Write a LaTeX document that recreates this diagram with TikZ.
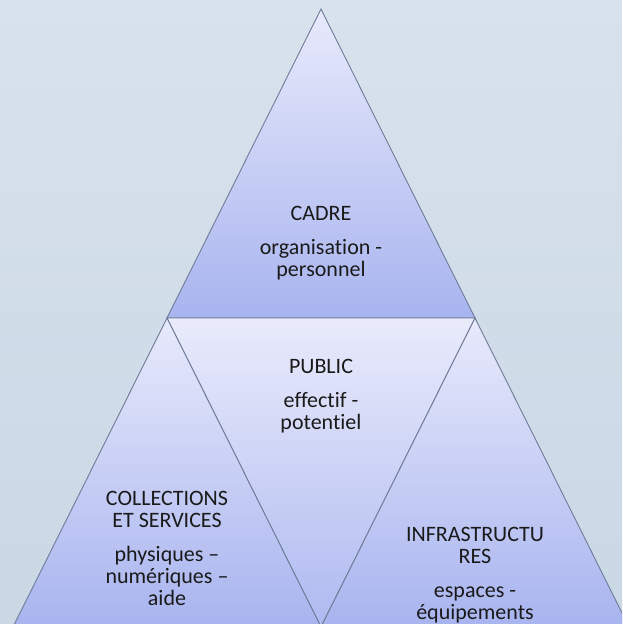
\documentclass[tikz,border=0pt]{standalone}
\usepackage{fontspec}
\setmainfont{Carlito}[Ligatures={NoCommon}]
\definecolor{bgtop}{HTML}{D8E2ED}
\definecolor{bgbot}{HTML}{CAD7E5}
\definecolor{trilight}{HTML}{E8EAFB}
\definecolor{tridark}{HTML}{A8B4EF}
\definecolor{edge}{HTML}{6F7C98}
\definecolor{txt}{HTML}{1A1A1A}
\tikzset{
  tri/.style={draw=edge, line width=0.9pt, line join=miter, top color=trilight, bottom color=tridark},
  invtri/.style={draw=edge, line width=0.9pt, line join=miter, top color=trilight!95!white, bottom color=tridark!90!trilight},
  lbl/.style={align=center, text=txt, font=\fontsize{22}{22}\selectfont, inner sep=0pt}
}
\begin{document}
\begin{tikzpicture}[x=1pt,y=-1pt]
\useasboundingbox (0,0) rectangle (622,624);
\clip (0,0) rectangle (622,624);
\shade[top color=bgtop, bottom color=bgbot] (0,0) rectangle (622,624);
\coordinate (apex) at (321,9);
\coordinate (bl) at (167,318);
\coordinate (br) at (475,318);
\coordinate (bm) at (321,627);
\coordinate (ll) at (13,627);
\coordinate (rr) at (629,627);
\path[tri] (apex) -- (br) -- (bl) -- cycle;
\path[invtri] (bl) -- (br) -- (bm) -- cycle;
\path[tri] (bl) -- (bm) -- (ll) -- cycle;
\path[tri] (br) -- (rr) -- (bm) -- cycle;
\node[lbl] (cadre) at (321,243) {CADRE\\[12pt]organisation -\\personnel};
\node[lbl] (public) at (321,396) {PUBLIC\\[12pt]effectif -\\potentiel};
\node[lbl] (coll) at (167,548) {COLLECTIONS\\ET SERVICES\\[12pt]physiques –\\numériques –\\aide};
\node[lbl] (infra) at (475,575) {INFRASTRUCTU\\RES\\[12pt]espaces -\\équipements};
\end{tikzpicture}
\end{document}
